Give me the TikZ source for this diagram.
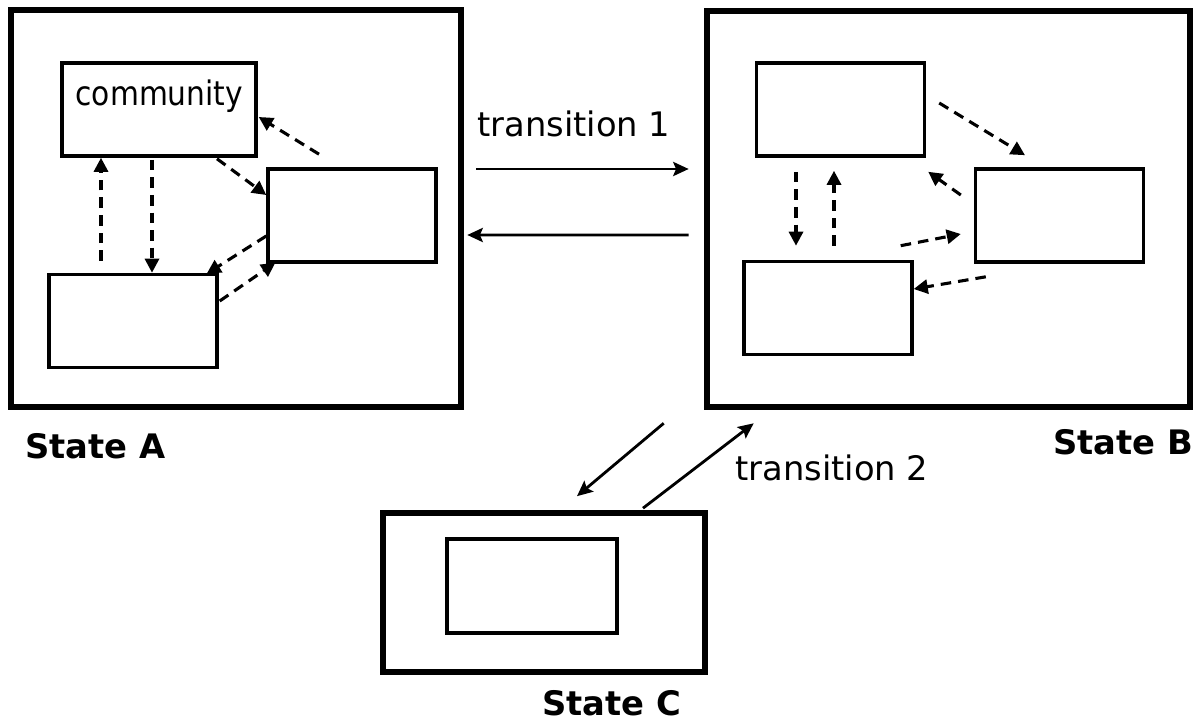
\documentclass[tikz,border=0pt]{standalone}
\usepackage{fontspec}
\setmainfont{DejaVu Sans}
\newfontfamily\commfont{DejaVu Sans}[FakeStretch=0.88]
\usetikzlibrary{positioning, arrows.meta, calc}

\begin{document}
\begin{tikzpicture}[x=0.025cm, y=-0.025cm,
  every node/.style={font=\fontsize{24}{28}\selectfont},
  innerbox/.style={draw, line width=2.4pt, minimum width=4.2cm, minimum height=2.33cm},
  dasharrow/.style={-{Triangle[length=10pt, width=10pt]}, line width=2.2pt, dash pattern=on 7.5pt off 5pt},
  transarrow/.style={-{Stealth[length=11pt, width=10pt, inset=2pt]}, line width=2pt},
  statelabel/.style={anchor=base west, inner sep=0pt, font=\bfseries\fontsize{24}{28}\selectfont}]

\useasboundingbox (0,0) rectangle (1203,722);

% States
\node (A) [draw, line width=4.6pt, minimum width=11.25cm, minimum height=9.925cm] at (236,208.5) {};
\node (B) [draw, line width=4.6pt, minimum width=12.075cm, minimum height=9.9cm] at (948.5,209) {};
\node (C) [draw, line width=4pt, minimum width=8.05cm, minimum height=3.975cm] at (544,592.5) {};

% Communities in state A
\node (comm) [innerbox, minimum width=4.85cm,
  label={[anchor=base west, inner sep=0pt, font=\commfont\fontsize{24}{28}\selectfont, xshift=0.375cm, yshift=-1.1cm]north west:community}] at (159,109.5) {};
\node (a2) [innerbox] at (352,215.5) {};
\node (a3) [innerbox] at (133,321) {};

% Communities in state B
\node (b1) [innerbox] at (840.5,109.5) {};
\node (b2) [innerbox] at (1059.5,215.5) {};
\node (b3) [innerbox] at (828,308) {};

% Community in state C
\node (c1) [innerbox, minimum width=4.25cm, minimum height=2.35cm] at (532,586) {};

% Labels
\node (labA) [statelabel] at (25,458) {State A};
\node (labB) [statelabel] at (1053,454) {State B};
\node (labC) [statelabel] at (542,715) {State C};
\node (t1) [anchor=base west, inner sep=0pt] at (477,137) {transition 1};
\node (t2) [anchor=base west, inner sep=0pt] at (735,480) {transition 2};

% Arrows inside A
\draw[dasharrow] ($(a3.north)+(-32,-12)$) -- ($(comm.south)+(-58,0)$);
\draw[dasharrow] ($(comm.south)+(-7,2)$) -- ($(a3.north)+(19,0)$);
\draw[dasharrow] ($(comm.south)+(58,1)$) -- ($(a2.west)+(0,-20.5)$);
\draw[dasharrow] ($(a2.north)+(-33,-13)$) -- ($(comm.east)+(1,7.5)$);
\draw[dasharrow] ($(a2.west)+(0,20.5)$) -- ($(a3.north east)+(-12,1)$);
\draw[dasharrow] ($(a3.east)+(1,-20)$) -- ($(a2.south west)+(9,-1)$);

% Arrows inside B
\draw[dasharrow] ($(b1.east)+(13,-6.5)$) -- ($(b2.north)+(-34.5,-12)$);
\draw[dasharrow] ($(b2.west)+(-13,-20.5)$) -- ($(b1.south east)+(2,14)$);
\draw[dasharrow] ($(b1.south)+(-44.5,14)$) -- ($(b3.north)+(-32,-14)$);
\draw[dasharrow] ($(b3.north)+(6,-14)$) -- ($(b1.south)+(-6.5,13)$);
\draw[dasharrow] ($(b3.north east)+(-13,-14)$) -- ($(b2.west)+(-13,18.5)$);
\draw[dasharrow] ($(b2.south west)+(12,13)$) -- ($(b3.east)+(0,-19)$);

% Transitions
\draw[transarrow] ($(A.east)+(12,-39.5)$) -- ($(B.west)+(-15,-40)$);
\draw[transarrow] ($(B.west)+(-15,26)$) -- ($(A.east)+(3,26.5)$);
\draw[transarrow] ($(B.south west)+(-40,13)$) -- ($(C.north)+(33,-14)$);
\draw[transarrow] ($(C.north)+(99,-2)$) -- ($(B.south west)+(50,13)$);

\end{tikzpicture}
\end{document}
